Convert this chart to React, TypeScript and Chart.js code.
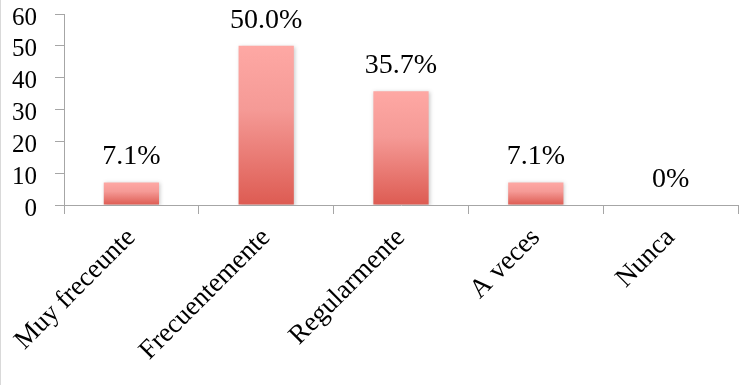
import React, { useEffect, useRef } from "react";
import { Chart, registerables } from "chart.js";

Chart.register(...registerables);

const categories = ["Muy freceunte", "Frecuentemente", "Regularmente", "A veces", "Nunca"];
const values = [7.1, 50.0, 35.7, 7.1, 0];
const valueLabels = ["7.1%", "50.0%", "35.7%", "7.1%", "0%"];
const yTicks = [0, 10, 20, 30, 40, 50, 60];

const FONT = "'Liberation Serif', 'DejaVu Serif', serif";
const AXIS = "#a6a6a6";

const labelPlugin = {
  id: "valueLabels",
  afterDatasetsDraw(chart: any) {
    const ctx = chart.ctx;
    const meta = chart.getDatasetMeta(0);
    ctx.save();
    ctx.font = `28px ${FONT}`;
    ctx.fillStyle = "#000";
    ctx.textAlign = "center";
    ctx.textBaseline = "alphabetic";
    meta.data.forEach((el: any, i: number) => {
      ctx.fillText(valueLabels[i], el.x, el.y - 18);
    });
    ctx.restore();
  },
};

const shadowPlugin = {
  id: "barShadow",
  beforeDatasetsDraw(chart: any) {
    const ctx = chart.ctx;
    ctx.save();
    ctx.shadowColor = "rgba(0,0,0,0.22)";
    ctx.shadowBlur = 4;
    ctx.shadowOffsetX = 1;
    ctx.shadowOffsetY = 1;
  },
  afterDatasetsDraw(chart: any) {
    chart.ctx.restore();
  },
};

export default function App() {
  const ref = useRef<HTMLCanvasElement>(null);
  useEffect(() => {
    if (!ref.current) return;
    const chart = new Chart(ref.current, {
      type: "bar",
      data: {
        labels: categories,
        datasets: [
          {
            data: values,
            categoryPercentage: 1,
            barPercentage: 0.41,
            backgroundColor: (c: any) => {
              const ch = c.chart;
              const area = ch.chartArea;
              if (!area) return "#e8716b";
              const ys = ch.scales.y;
              const top = ys.getPixelForValue(c.raw ?? 0);
              const bottom = ys.getPixelForValue(0);
              if (bottom - top < 1) return "rgba(0,0,0,0)";
              const g = ch.ctx.createLinearGradient(0, top, 0, bottom);
              g.addColorStop(0, "#fea8a4");
              g.addColorStop(0.4, "#f59a96");
              g.addColorStop(1, "#dd5b52");
              return g;
            },
            borderWidth: 0,
          },
        ],
      },
      options: {
        responsive: true,
        maintainAspectRatio: false,
        animation: false,
        layout: { padding: { top: 14, right: 18, left: 0, bottom: 0 } },
        plugins: { legend: { display: false }, tooltip: { enabled: false } },
        scales: {
          x: {
            grid: { display: true, drawOnChartArea: false, drawTicks: true, tickLength: 9, color: AXIS, offset: true },
            border: { color: AXIS, width: 1 },
            ticks: {
              color: "#000",
              font: { family: FONT, size: 27 },
              minRotation: 45,
              maxRotation: 45,
              padding: 8,
              autoSkip: false,
            },
            afterFit: (s: any) => {
              s.height = 180;
              s.paddingLeft = 0;
              s.paddingRight = 0;
            },
          },
          y: {
            min: 0,
            max: 60,
            afterBuildTicks: (s: any) => {
              s.ticks = yTicks.map((v) => ({ value: v }));
            },
            grid: { display: true, drawOnChartArea: false, drawTicks: true, tickLength: 9, color: AXIS },
            border: { color: AXIS, width: 1 },
            ticks: {
              color: "#000",
              font: { family: FONT, size: 25 },
              padding: 18,
              labelOffset: 4,
              autoSkip: false,
            },
            afterFit: (s: any) => {
              s.width = 63;
              s.paddingTop = 0;
              s.paddingBottom = 0;
            },
          },
        },
      },
      plugins: [shadowPlugin, labelPlugin],
    });
    return () => chart.destroy();
  }, []);
  return (
    <div
      style={{
        position: "fixed",
        left: 0,
        top: 0,
        width: 756,
        height: 385,
        background: "#fff",
        boxSizing: "border-box",
        borderLeft: "1px solid #d9d9d9",
      }}
    >
      <canvas ref={ref} />
    </div>
  );
}
